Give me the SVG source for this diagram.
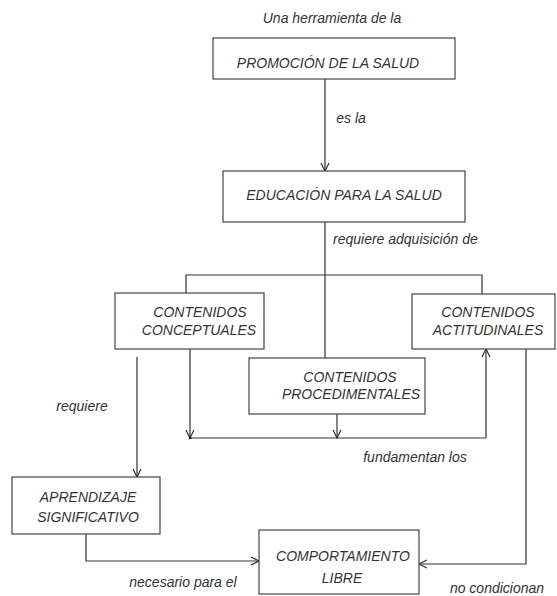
<svg xmlns="http://www.w3.org/2000/svg" width="557" height="596" viewBox="0 0 557 596">
<style>
  .box { fill: #ffffff; stroke: #444; stroke-width: 1.2; }
  .t { font-family: "Liberation Sans", Arial, sans-serif; font-style: italic; font-size: 14px; fill: #333; text-anchor: middle; }
  .c { fill: none; stroke: #333; stroke-width: 1.2; }
</style>
<defs>
  <marker id="arr" markerWidth="10" markerHeight="10" refX="9" refY="5" orient="auto" markerUnits="userSpaceOnUse">
    <path d="M1,1 L9,5 L1,9" fill="none" stroke="#333" stroke-width="1.2"/>
  </marker>
</defs>
<rect width="557" height="596" fill="#ffffff"/>

<g id="connectors">
  <line class="c" x1="325" y1="79" x2="325" y2="171" marker-end="url(#arr)"/>
  <line class="c" x1="325" y1="222" x2="325" y2="358"/>
  <polyline class="c" points="186,293 186,275 482,275 482,294"/>
  <line class="c" x1="137" y1="357" x2="137" y2="477" marker-end="url(#arr)"/>
  <line class="c" x1="190" y1="349" x2="190" y2="438" marker-end="url(#arr)"/>
  <line class="c" x1="190" y1="438" x2="486" y2="438"/>
  <circle cx="190" cy="438" r="1.3" fill="#111"/>
  <line class="c" x1="337" y1="414" x2="337" y2="438" marker-end="url(#arr)"/>
  <line class="c" x1="486" y1="438" x2="486" y2="349" marker-end="url(#arr)"/>
  <polyline class="c" points="526,349 526,564 419,564" marker-end="url(#arr)"/>
  <polyline class="c" points="86,534 86,561 259,561" marker-end="url(#arr)"/>
</g>

<g id="labels">
  <text class="t" x="332" y="23">Una herramienta de la</text>
  <text class="t" x="351" y="123">es la</text>
  <text class="t" x="333" y="244" style="text-anchor:start">requiere adquisición de</text>
  <text class="t" x="82" y="411">requiere</text>
  <text class="t" x="415" y="462">fundamentan los</text>
  <text class="t" x="183" y="587">necesario para el</text>
  <text class="t" x="497" y="593">no condicionan</text>
</g>

<g id="promocion">
  <rect class="box" x="213" y="38" width="242" height="41"/>
  <text class="t" x="328" y="68">PROMOCIÓN DE LA SALUD</text>
</g>
<g id="educacion">
  <rect class="box" x="223" y="171" width="242" height="51"/>
  <text class="t" x="344" y="200">EDUCACIÓN  PARA LA SALUD</text>
</g>
<g id="conceptuales">
  <rect class="box" x="115" y="293" width="149" height="56"/>
  <text class="t" x="200" y="317">CONTENIDOS</text>
  <text class="t" x="199" y="335">CONCEPTUALES</text>
</g>
<g id="actitudinales">
  <rect class="box" x="412" y="294" width="143" height="55"/>
  <text class="t" x="488" y="317">CONTENIDOS</text>
  <text class="t" x="488" y="335">ACTITUDINALES</text>
</g>
<g id="procedimentales">
  <rect class="box" x="249" y="358" width="176" height="56"/>
  <text class="t" x="350" y="382">CONTENIDOS</text>
  <text class="t" x="351" y="399">PROCEDIMENTALES</text>
</g>
<g id="aprendizaje">
  <rect class="box" x="12" y="477" width="148" height="57"/>
  <text class="t" x="88" y="502">APRENDIZAJE</text>
  <text class="t" x="88" y="522">SIGNIFICATIVO</text>
</g>
<g id="comportamiento">
  <rect class="box" x="259" y="530" width="160" height="64"/>
  <text class="t" x="343" y="561">COMPORTAMIENTO</text>
  <text class="t" x="342" y="583">LIBRE</text>
</g>
</svg>
